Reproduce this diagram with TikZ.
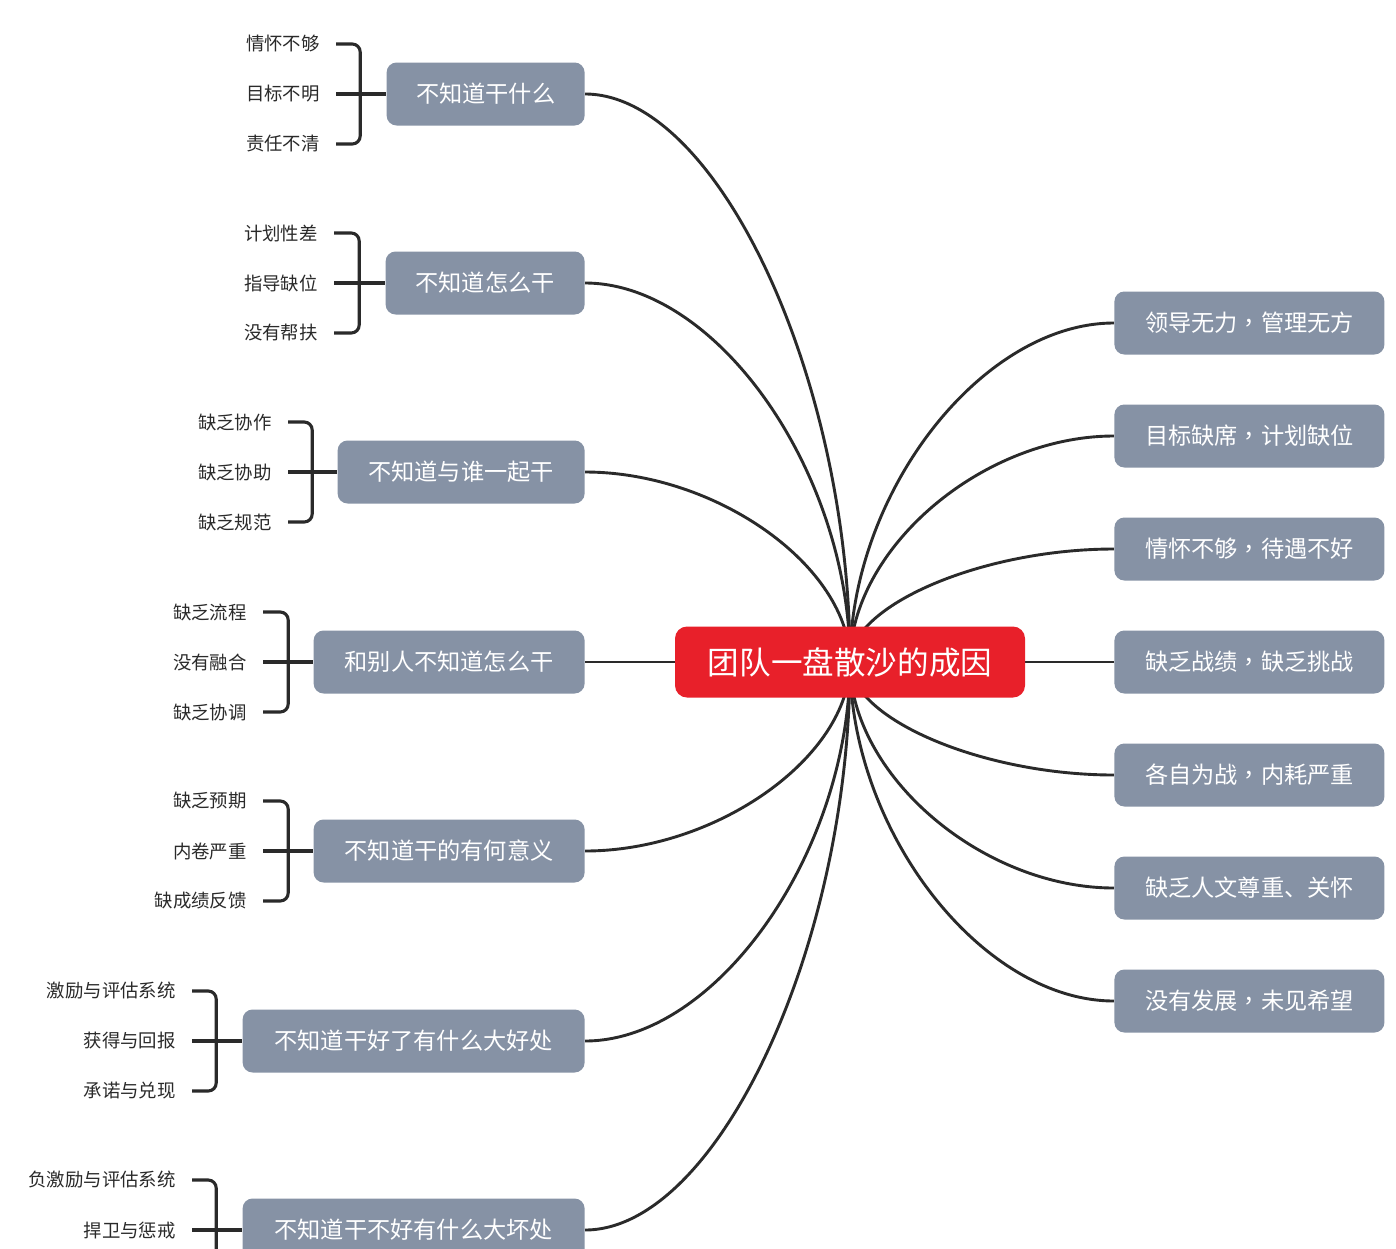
\documentclass[tikz,border=0pt]{standalone}
\usepackage{fontspec}
\setmainfont{Noto Sans CJK SC}
\newfontfamily\tcfont{Noto Sans CJK TC}
\newcommand{\cma}{{\tcfont ，}}
\usetikzlibrary{backgrounds,calc}
\definecolor{boxgray}{HTML}{8692A5}
\definecolor{rootred}{HTML}{E8202A}
\definecolor{ink}{HTML}{2A2A2A}
\tikzset{
  topic/.style={fill=boxgray, rounded corners=5pt, text=white, font=\fontsize{11.6}{14}\selectfont, minimum height=31.5pt, inner sep=0pt},
  rootnode/.style={fill=rootred, rounded corners=6pt, text=white, font=\fontsize{15.8}{18}\selectfont, minimum width=175pt, minimum height=35.5pt, inner sep=0pt},
  leaf/.style={text=ink, font=\fontsize{9.2}{11}\selectfont, inner xsep=8pt, inner ysep=0pt, anchor=east},
  link/.style={draw=ink, line width=1.45pt},
  brk/.style={draw=ink, line width=1.55pt, rounded corners=4pt},
}
\begin{document}
\begin{tikzpicture}[x=0.5pt,y=-0.5pt]
\path[use as bounding box] (0,0) rectangle (1396,1248);
\clip (0,0) rectangle (1396,1248);

% root
\node[rootnode] (R) at (850,662) {团队一盘散沙的成因};

% left topics
\node[topic, anchor=east, minimum width=99pt]   (L1) at (585,94)   {不知道干什么};
\node[topic, anchor=east, minimum width=99.5pt] (L2) at (585,283)  {不知道怎么干};
\node[topic, anchor=east, minimum width=123.5pt] (L3) at (585,472) {不知道与谁一起干};
\node[topic, anchor=east, minimum width=135.5pt] (L4) at (585,662) {和别人不知道怎么干};
\node[topic, anchor=east, minimum width=135.5pt] (L5) at (585,851) {不知道干的有何意义};
\node[topic, anchor=east, minimum width=171pt]  (L6) at (585,1041) {不知道干好了有什么大好处};
\node[topic, anchor=east, minimum width=171pt]  (L7) at (585,1230) {不知道干不好有什么大坏处};

% right topics
\node[topic, anchor=west, minimum width=135pt] (Q1) at (1114,323)  {领导无力\cma 管理无方};
\node[topic, anchor=west, minimum width=135pt] (Q2) at (1114,436)  {目标缺席\cma 计划缺位};
\node[topic, anchor=west, minimum width=135pt] (Q3) at (1114,549)  {情怀不够\cma 待遇不好};
\node[topic, anchor=west, minimum width=135pt] (Q4) at (1114,662)  {缺乏战绩\cma 缺乏挑战};
\node[topic, anchor=west, minimum width=135pt] (Q5) at (1114,775)  {各自为战\cma 内耗严重};
\node[topic, anchor=west, minimum width=135pt] (Q6) at (1114,888)  {缺乏人文尊重、关怀};
\node[topic, anchor=west, minimum width=135pt] (Q7) at (1114,1001) {没有发展\cma 未见希望};

% leaves
\node[leaf] (a1) at (336,44)  {情怀不够};
\node[leaf] (a2) at (336,94)  {目标不明};
\node[leaf] (a3) at (336,144) {责任不清};
\node[leaf] (b1) at (334,233) {计划性差};
\node[leaf] (b2) at (334,283) {指导缺位};
\node[leaf] (b3) at (334,333) {没有帮扶};
\node[leaf] (c1) at (288,422) {缺乏协作};
\node[leaf] (c2) at (288,472) {缺乏协助};
\node[leaf] (c3) at (288,522) {缺乏规范};
\node[leaf] (d1) at (263,612) {缺乏流程};
\node[leaf] (d2) at (263,662) {没有融合};
\node[leaf] (d3) at (263,712) {缺乏协调};
\node[leaf] (e1) at (263,801) {缺乏预期};
\node[leaf] (e2) at (263,851) {内卷严重};
\node[leaf] (e3) at (263,901) {缺成绩反馈};
\node[leaf] (f1) at (192,991)  {激励与评估系统};
\node[leaf] (f2) at (192,1041) {获得与回报};
\node[leaf] (f3) at (192,1091) {承诺与兑现};
\node[leaf] (g1) at (192,1180) {负激励与评估系统};
\node[leaf] (g2) at (192,1230) {捍卫与惩戒};

% bracket corners
\coordinate (BA) at ([xshift=-13pt]L1.west);
\coordinate (BB) at ([xshift=-13pt]L2.west);
\coordinate (BC) at ([xshift=-12.5pt]L3.west);
\coordinate (BD) at ([xshift=-12.5pt]L4.west);
\coordinate (BE) at ([xshift=-12.5pt]L5.west);
\coordinate (BF) at ([xshift=-13pt]L6.west);
\coordinate (BG) at ([xshift=-13pt]L7.west);
\coordinate (BGend) at ($(BG)+(0,80)$);

\draw[brk] (a1.east) -| (BA) |- (a3.east);
\draw[brk] (a2.east) -- (L1.west);
\draw[brk] (b1.east) -| (BB) |- (b3.east);
\draw[brk] (b2.east) -- (L2.west);
\draw[brk] (c1.east) -| (BC) |- (c3.east);
\draw[brk] (c2.east) -- (L3.west);
\draw[brk] (d1.east) -| (BD) |- (d3.east);
\draw[brk] (d2.east) -- (L4.west);
\draw[brk] (e1.east) -| (BE) |- (e3.east);
\draw[brk] (e2.east) -- (L5.west);
\draw[brk] (f1.east) -| (BF) |- (f3.east);
\draw[brk] (f2.east) -- (L6.west);
\draw[brk] (g1.east) -| (BG) -- (BGend);
\draw[brk] (g2.east) -- (L7.west);

\begin{pgfonlayer}{background}
\fill[white] (0,0) rectangle (1396,1248);
\draw[link] (L1.east) .. controls +(132,0) and +(0,-284) .. (R.center);
\draw[link] (L2.east) .. controls +(132,0) and +(0,-189.5) .. (R.center);
\draw[link] (L3.east) .. controls +(132,0) and +(0,-95) .. (R.center);
\draw[link] (L4.east) -- (R.west);
\draw[link] (L5.east) .. controls +(132,0) and +(0,94.5) .. (R.center);
\draw[link] (L6.east) .. controls +(132,0) and +(0,189.5) .. (R.center);
\draw[link] (L7.east) .. controls +(132,0) and +(0,284) .. (R.center);
\draw[link] (Q1.west) .. controls +(-132,0) and +(0,-169.5) .. (R.center);
\draw[link] (Q2.west) .. controls +(-132,0) and +(0,-113) .. (R.center);
\draw[link] (Q3.west) .. controls +(-132,0) and +(0,-56.5) .. (R.center);
\draw[link] (Q4.west) -- (R.east);
\draw[link] (Q5.west) .. controls +(-132,0) and +(0,56.5) .. (R.center);
\draw[link] (Q6.west) .. controls +(-132,0) and +(0,113) .. (R.center);
\draw[link] (Q7.west) .. controls +(-132,0) and +(0,169.5) .. (R.center);
\end{pgfonlayer}
\end{tikzpicture}
\end{document}
